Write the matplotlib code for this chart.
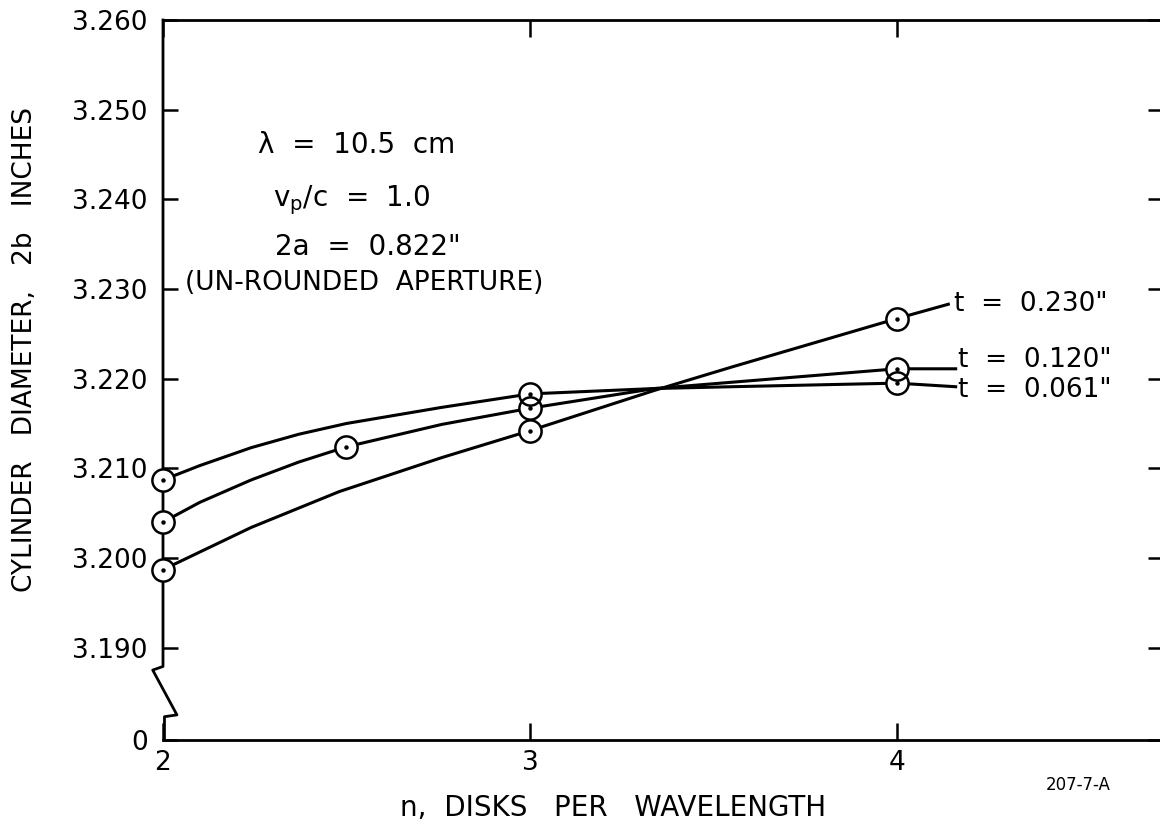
import matplotlib
matplotlib.use("Agg")
import matplotlib.pyplot as plt

# disks per wavelength where the diameter was computed
n_061 = [2.0, 3.0, 4.0]
d_061 = [3.2087, 3.2183, 3.2195]
n_120 = [2.0, 2.5, 3.0, 4.0]
d_120 = [3.2040, 3.2124, 3.2167, 3.2211]
n_230 = [2.0, 3.0, 4.0]
d_230 = [3.1987, 3.2142, 3.2267]

# faired curves through the points
curve_061_n = [2.0, 2.10, 2.24, 2.37, 2.50, 2.76, 3.0, 3.34, 3.55, 4.0, 4.16]
curve_061_d = [3.2087, 3.2103, 3.2123, 3.2138, 3.2150, 3.2168, 3.2183, 3.2189, 3.2191, 3.2195, 3.2191]
curve_120_n = [2.0, 2.10, 2.24, 2.37, 2.5, 2.76, 3.0, 3.34, 3.55, 4.0, 4.16]
curve_120_d = [3.2040, 3.2062, 3.2087, 3.2107, 3.2124, 3.2149, 3.2167, 3.2189, 3.2196, 3.2211, 3.2211]
curve_230_n = [2.0, 2.24, 2.48, 2.76, 3.0, 3.34, 3.55, 4.0, 4.14]
curve_230_d = [3.1987, 3.2034, 3.2074, 3.2112, 3.2142, 3.2187, 3.2213, 3.2267, 3.2283]

y_ticks = [3.190, 3.200, 3.210, 3.220, 3.230, 3.240, 3.250, 3.260]
x_ticks = [2, 3, 4]

W, H = 1160, 826
fig = plt.figure(figsize=(W / 100, H / 100), dpi=100)
ax = fig.add_axes([163 / W, 1 - 740 / H, 1000 / W, 720 / H])
y_bottom = 3.1797
ax.set_xlim(2, 4.725)
ax.set_ylim(y_bottom, 3.260)

for side in ["top", "bottom"]:
    ax.spines[side].set_linewidth(2)
ax.spines["left"].set_visible(False)
ax.spines["right"].set_visible(False)

# left axis with the break between 3.190 and zero
brk_x = [2.0, 2.0, 1.972, 2.038, 2.004, 2.004]
brk_y = [3.260, 3.1879, 3.1875, 3.1825, 3.1823, y_bottom]
ax.plot(brk_x, brk_y, color="black", lw=2, clip_on=False, zorder=2.5)

ax.set_yticks([y_bottom] + y_ticks)
ax.set_yticklabels(["0"] + ["%.3f" % v for v in y_ticks])
ax.set_xticks(x_ticks)
ax.set_xticklabels([str(v) for v in x_ticks])
ax.tick_params(axis="y", direction="in", length=11, width=1.8, pad=11,
               labelsize=19, right=True)
ax.tick_params(axis="x", direction="in", length=12, width=1.8, pad=7,
               labelsize=19, top=True)

curves = [(curve_061_n, curve_061_d), (curve_120_n, curve_120_d), (curve_230_n, curve_230_d)]
points = [(n_061, d_061), (n_120, d_120), (n_230, d_230)]

for cn, cd in curves:
    ax.plot(cn, cd, color="black", lw=2.2, solid_joinstyle="round", zorder=3)

# white discs first so overlapping rings both stay visible
for pn, pd in points:
    ax.plot(pn, pd, ls="none", marker="o", ms=16, mfc="white", mec="none",
            zorder=4, clip_on=False)
for pn, pd in points:
    ax.plot(pn, pd, ls="none", marker="o", ms=16, mfc="none", mec="black",
            mew=1.8, zorder=5, clip_on=False)
    ax.plot(pn, pd, ls="none", marker="o", ms=2.2, color="black",
            zorder=6, clip_on=False)

# curve labels
ax.annotate('t  =  0.230"', (curve_230_n[-1], curve_230_d[-1]), xytext=(4, 0),
            textcoords="offset points", va="center", fontsize=19)
ax.annotate('t  =  0.120"', (curve_120_n[-1], curve_120_d[-1]), xytext=(2, 6),
            textcoords="offset points", va="center", fontsize=19)
ax.annotate('t  =  0.061"', (curve_061_n[-1], curve_061_d[-1]), xytext=(2, -2),
            textcoords="offset points", va="center", fontsize=19)

def fig_text(px, py, s, **kw):
    fig.text(px / W, 1 - py / H, s, **kw)

fig_text(258, 145, "λ  =  10.5  cm", fontsize=20, va="center")
fig_text(273, 200, r"$\mathregular{v_p/c}$  =  1.0", fontsize=20, va="center")
fig_text(275, 247, '2a  =  0.822"', fontsize=20, va="center")
fig_text(185, 283, "(UN-ROUNDED  APERTURE)", fontsize=19, va="center")

fig_text(25, 350, "CYLINDER   DIAMETER,   2b   INCHES", fontsize=19,
         rotation=90, ha="center", va="center")
fig_text(613, 808, "n,  DISKS   PER   WAVELENGTH", fontsize=20, ha="center",
         va="center")
fig_text(1078, 785, "207-7-A", fontsize=12, ha="center", va="center")

fig.savefig("out.png", dpi=100)
